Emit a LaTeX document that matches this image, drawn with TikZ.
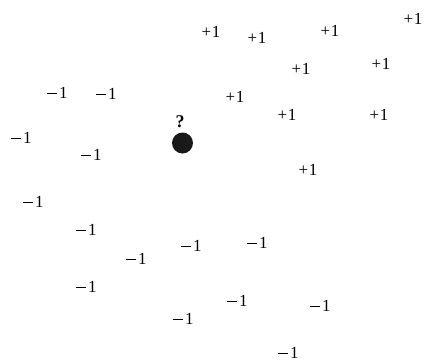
\documentclass[tikz,border=0pt]{standalone}
\usepackage{fontspec}
\setmainfont{Liberation Serif}
\newcommand{\mysgnminus}{\raisebox{4.6bp}{\rule{10bp}{0.9bp}}\kern2.5bp 1}
\begin{document}
\begin{tikzpicture}[x=1bp,y=-1bp,
  lab/.style={inner sep=0pt,font=\fontsize{17}{19}\selectfont},
  poslab/.style={lab},
  neglab/.style={lab}]
\useasboundingbox (0,0) rectangle (424,362);
% positive
\node[poslab] (p1) at (211,32) {+\kern0.5bp 1};
\node[poslab] (p2) at (257,38) {+\kern0.5bp 1};
\node[poslab] (p3) at (330,31) {+\kern0.5bp 1};
\node[poslab] (p4) at (413,19) {+\kern0.5bp 1};
\node[poslab] (p5) at (301,69) {+\kern0.5bp 1};
\node[poslab] (p6) at (381,64) {+\kern0.5bp 1};
\node[poslab] (p7) at (235,97) {+\kern0.5bp 1};
\node[poslab] (p8) at (287,115) {+\kern0.5bp 1};
\node[poslab] (p9) at (379,115) {+\kern0.5bp 1};
\node[poslab] (p10) at (308,170) {+\kern0.5bp 1};
% negative
\node[neglab] (n1) at (57,93) {\mysgnminus};
\node[neglab] (n2) at (106,94) {\mysgnminus};
\node[neglab] (n3) at (21,138) {\mysgnminus};
\node[neglab] (n4) at (91,155) {\mysgnminus};
\node[neglab] (n5) at (33,202) {\mysgnminus};
\node[neglab] (n6) at (86,230) {\mysgnminus};
\node[neglab] (n7) at (136,259) {\mysgnminus};
\node[neglab] (n8) at (191,246) {\mysgnminus};
\node[neglab] (n9) at (257,243) {\mysgnminus};
\node[neglab] (n10) at (86,287) {\mysgnminus};
\node[neglab] (n11) at (183,319) {\mysgnminus};
\node[neglab] (n12) at (237,301) {\mysgnminus};
\node[neglab] (n13) at (320,306) {\mysgnminus};
\node[neglab] (n14) at (288,353) {\mysgnminus};
% query point
\fill[black!90] (182.5,143) circle (10.5bp);
\coordinate (q) at (182.5,143);
\node[lab,font=\fontsize{18}{20}\selectfont\bfseries] (qm) at (180,122) {?};
\end{tikzpicture}
\end{document}
